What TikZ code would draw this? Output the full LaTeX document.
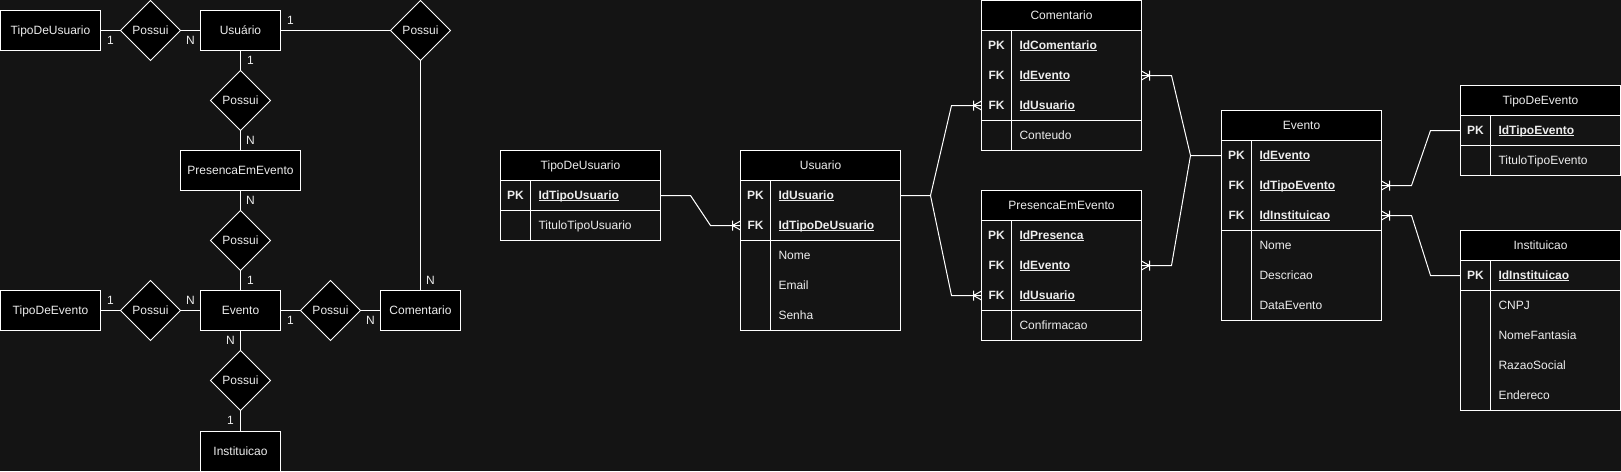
\documentclass[tikz,border=0pt]{standalone}
\usepackage{fontspec}
\setmainfont{Liberation Sans}
\usetikzlibrary{shapes.geometric,calc}
\definecolor{bg}{HTML}{141414}
\definecolor{fg}{HTML}{EDEDED}
\newcommand\myul[1]{\setbox0=\hbox{#1}\rlap{\rule[-1.8pt]{\wd0}{0.8pt}}\box0}
\tikzset{
  every node/.style={font=\fontsize{12}{14}\selectfont, text=fg, outer sep=0pt, text height=9pt, text depth=2pt},
  ln/.style={draw=white, line width=1pt},
  ent/.style={rectangle, draw=white, fill=black, line width=1pt, minimum height=40pt, inner sep=0pt},
  rel/.style={diamond, draw=white, fill=black, line width=1pt, minimum size=60pt, inner sep=0pt},
  card/.style={inner sep=0pt},
  hdr/.style={rectangle, draw=white, fill=black, line width=1pt, minimum width=160pt, minimum height=30pt, inner sep=0pt, anchor=north west},
  rowbox/.style={rectangle, minimum width=160pt, minimum height=30pt, inner sep=0pt, anchor=north west},
  keytxt/.style={inner sep=0pt, font=\fontsize{12}{14}\selectfont\bfseries},
  fldtxt/.style={inner sep=0pt, anchor=west},
  pktxt/.style={inner sep=0pt, anchor=west, font=\fontsize{12}{14}\selectfont\bfseries},
}
% #1 name, #2 top-left, #3 header, #4 key rows, #5 total rows, #6 rows key/text
\newcommand\ertable[6]{%
  \node[hdr] (#1) at (#2) {#3};
  \foreach [count=\i] \k/\t in {#6} {
    \node[rowbox] (#1-\i) at ($(#1.south west)+(0,{(\i-1)*30})$) {};
    \node[keytxt] (#1-k\i) at ($(#1-\i.west)+(15,0)$) {\k};
    \ifnum\i>#4 \node[fldtxt] (#1-t\i) at ($(#1-\i.west)+(38,0)$) {\t};
    \else \node[pktxt] (#1-t\i) at ($(#1-\i.west)+(38,0)$) {\myul{\t}};\fi
  }
  \draw[ln] (#1.north west) rectangle ($(#1.south east)+(0,{#5*30})$);
  \draw[ln] ($(#1.south west)+(0,{#4*30})$) -- ++(160,0);
  \draw[ln] ($(#1.south west)+(30,0)$) -- ++(0,{#5*30});
}
\newcommand\crowfoot[2]{%
  \draw[ln] ($(#1)+({#2*8},0)$) -- ($(#1)+(0,-4.5)$)
            ($(#1)+({#2*8},0)$) -- ($(#1)+(0,4.5)$)
            ($(#1)+({#2*8},-5)$) -- ($(#1)+({#2*8},5)$);
}
\begin{document}
\begin{tikzpicture}[x=1pt,y=-1pt]
\useasboundingbox (-0.5,-0.5) rectangle (1620.5,470.5);
\fill[bg] (-0.5,-0.5) rectangle (1620.5,470.5);

% ---------- conceptual ER ----------
\node[ent,minimum width=100pt] (eTU) at (50,30) {TipoDeUsuario};
\node[rel] (r1) at (150,30) {Possui};
\node[ent,minimum width=80pt] (eUS) at (240,30) {Usuário};
\node[rel] (r2) at (420,30) {Possui};
\node[rel] (r3) at (240,100) {Possui};
\node[ent,minimum width=120pt] (ePE) at (240,170) {PresencaEmEvento};
\node[rel] (r4) at (240,240) {Possui};
\node[ent,minimum width=80pt] (eEV) at (240,310) {Evento};
\node[ent,minimum width=100pt] (eTE) at (50,310) {TipoDeEvento};
\node[rel] (r5) at (150,310) {Possui};
\node[rel] (r6) at (330,310) {Possui};
\node[ent,minimum width=80pt] (eCO) at (420,310) {Comentario};
\node[rel] (r7) at (240,380) {Possui};
\node[ent,minimum width=80pt] (eIN) at (240,451) {Instituicao};

\draw[ln] (eTU) -- (r1);
\draw[ln] (r1) -- (eUS);
\draw[ln] (eUS) -- (r2);
\draw[ln] (r2) -- (eCO);
\draw[ln] (eUS) -- (r3);
\draw[ln] (r3) -- (ePE);
\draw[ln] (ePE) -- (r4);
\draw[ln] (r4) -- (eEV);
\draw[ln] (eTE) -- (r5);
\draw[ln] (r5) -- (eEV);
\draw[ln] (eEV) -- (r6);
\draw[ln] (r6) -- (eCO);
\draw[ln] (eEV) -- (r7);
\draw[ln] (r7) -- (eIN);

\node[card] (c1) at (110,40) {1};
\node[card] (c2) at (190,40) {N};
\node[card] (c3) at (290,20) {1};
\node[card] (c4) at (250,60) {1};
\node[card] (c5) at (250,140) {N};
\node[card] (c6) at (250,200) {N};
\node[card] (c7) at (250,280) {1};
\node[card] (c8) at (430,280) {N};
\node[card] (c9) at (110,300) {1};
\node[card] (c10) at (190,300) {N};
\node[card] (c11) at (290,320) {1};
\node[card] (c12) at (370,320) {N};
\node[card] (c13) at (230,340) {N};
\node[card] (c14) at (230,420) {1};

% ---------- logical tables ----------
\ertable{tTU}{500,150}{TipoDeUsuario}{1}{2}{PK/IdTipoUsuario, /TituloTipoUsuario}
\ertable{tUS}{740,150}{Usuario}{2}{5}{PK/IdUsuario, FK/IdTipoDeUsuario, /Nome, /Email, /Senha}
\ertable{tCO}{981,0}{Comentario}{3}{4}{PK/IdComentario, FK/IdEvento, FK/IdUsuario, /Conteudo}
\ertable{tPE}{981,190}{PresencaEmEvento}{3}{4}{PK/IdPresenca, FK/IdEvento, FK/IdUsuario, /Confirmacao}
\ertable{tEV}{1221,110}{Evento}{3}{6}{PK/IdEvento, FK/IdTipoEvento, FK/IdInstituicao, /Nome, /Descricao, /DataEvento}
\ertable{tTE}{1460,85}{TipoDeEvento}{1}{2}{PK/IdTipoEvento, /TituloTipoEvento}
\ertable{tIN}{1460,230}{Instituicao}{1}{5}{PK/IdInstituicao, /CNPJ, /NomeFantasia, /RazaoSocial, /Endereco}

% connectors
\draw[ln] (tTU-1.east) -- ++(30,0) -- ($(tUS-2.west)+(-30,0)$) -- (tUS-2.west);
\draw[ln] (tUS-1.east) -- ++(30,0) coordinate (usj) -- ($(tCO-3.west)+(-30,0)$) -- (tCO-3.west);
\draw[ln] (usj) -- ($(tPE-3.west)+(-30,0)$) -- (tPE-3.west);
\draw[ln] (tCO-2.east) -- ++(30,0) -- ($(tEV-1.west)+(-31,0)$) coordinate (evj) -- (tEV-1.west);
\draw[ln] (tPE-2.east) -- ++(30,0) -- (evj);
\draw[ln] (tEV-2.east) -- ++(30,0) -- ($(tTE-1.west)+(-30,0)$) -- (tTE-1.west);
\draw[ln] (tEV-3.east) -- ++(30,0) -- ($(tIN-1.west)+(-30,0)$) -- (tIN-1.west);

\crowfoot{tUS-2.west}{-1}
\crowfoot{tCO-3.west}{-1}
\crowfoot{tPE-3.west}{-1}
\crowfoot{tCO-2.east}{1}
\crowfoot{tPE-2.east}{1}
\crowfoot{tEV-2.east}{1}
\crowfoot{tEV-3.east}{1}
\end{tikzpicture}
\end{document}
